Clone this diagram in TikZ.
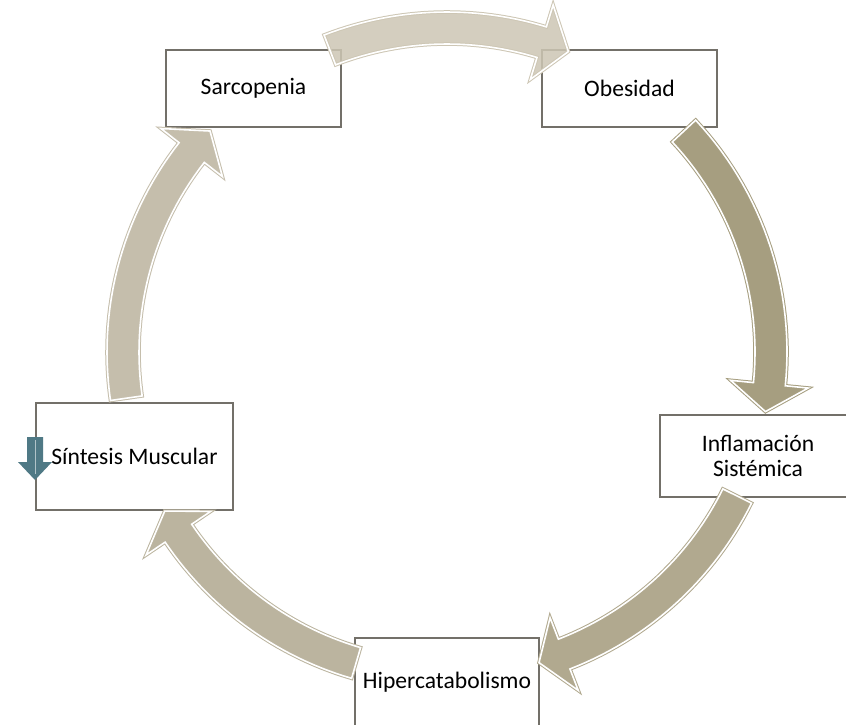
\documentclass[tikz,border=0pt]{standalone}
\usepackage{fontspec}
\setmainfont{Carlito}
\definecolor{bordegris}{HTML}{737069}
\definecolor{tonoA}{HTML}{CDC6B4}
\definecolor{tonoB}{HTML}{A69E80}
\definecolor{tonoC}{HTML}{B1A98F}
\definecolor{tonoD}{HTML}{BBB49F}
\definecolor{tonoE}{HTML}{C5BEAC}
\definecolor{bajada}{HTML}{4F7985}

\begin{document}
\begin{tikzpicture}[x=0.5pt,y=-0.5pt,
  caja/.style={draw=bordegris, line width=0.8pt, fill=white, inner sep=0pt,
    align=center, font=\fontsize{11.8}{12.8}\selectfont},
  flecha/.style={line width=0.5pt, double=white, double distance=0.8pt}]
\useasboundingbox (0,0) rectangle (846,724);
\coordinate (ciclo) at (447,352);

% cajas
\node[caja, minimum width=87.5pt, minimum height=38.5pt] (sarcopenia) at (253.5,88.5) {Sarcopenia};
\node[caja, minimum width=87.5pt, minimum height=38.5pt] (obesidad) at (629.5,88.5) {Obesidad};
\node[caja, minimum width=98pt, minimum height=41pt] (inflamacion) at (758,456) {Inflamación\\Sistémica};
\node[caja, minimum width=92pt, minimum height=44pt] (hiper) at (447,682) {Hipercatabolismo};
\node[caja, minimum width=98.5pt, minimum height=53.5pt] (sintesis) at (134.5,456.5) {Síntesis Muscular};

% flechas del ciclo
\begin{scope}[shift={(ciclo)}]
\draw[flecha, fill=tonoB, draw=tonoB] (317:308) -- plot[domain=317:365.7, samples=30] (\x:308)
  -- (365.7:285) -- (370.6:324) -- (365.7:363) -- plot[domain=365.7:317, samples=30] (\x:340) -- cycle;
\draw[flecha, fill=tonoC, draw=tonoC] (26.4:308) -- plot[domain=26.4:68.8, samples=30] (\x:308)
  -- (68.8:285) -- (73.5:324) -- (68.8:363) -- plot[domain=68.8:26.4, samples=30] (\x:340) -- cycle;
\draw[flecha, fill=tonoD, draw=tonoD] (106.3:308) -- plot[domain=106.3:146, samples=30] (\x:308)
  -- (146:285) -- (150.6:324) -- (146:363) -- plot[domain=146:106.3, samples=30] (\x:340) -- cycle;
\draw[flecha, fill=tonoE, draw=tonoE] (171.8:308) -- plot[domain=171.8:218, samples=30] (\x:308)
  -- (218:285) -- (223:324) -- (218:363) -- plot[domain=218:171.8, samples=30] (\x:340) -- cycle;
\draw[flecha, fill=tonoA, fill opacity=0.85, draw=tonoA] (248.8:308) -- plot[domain=248.8:287, samples=30] (\x:308)
  -- (287:285) -- (292:324) -- (287:363) -- plot[domain=287:248.8, samples=30] (\x:340) -- cycle;
\end{scope}

% flecha hacia abajo
\fill[bajada] (27,437) -- (43,437) -- (43,462) -- (52,462) -- (35,480) -- (18,462) -- (27,462) -- cycle;
\draw[bajada!45!white, line width=0.4pt] (35,440) -- (35,474);
\end{tikzpicture}
\end{document}
